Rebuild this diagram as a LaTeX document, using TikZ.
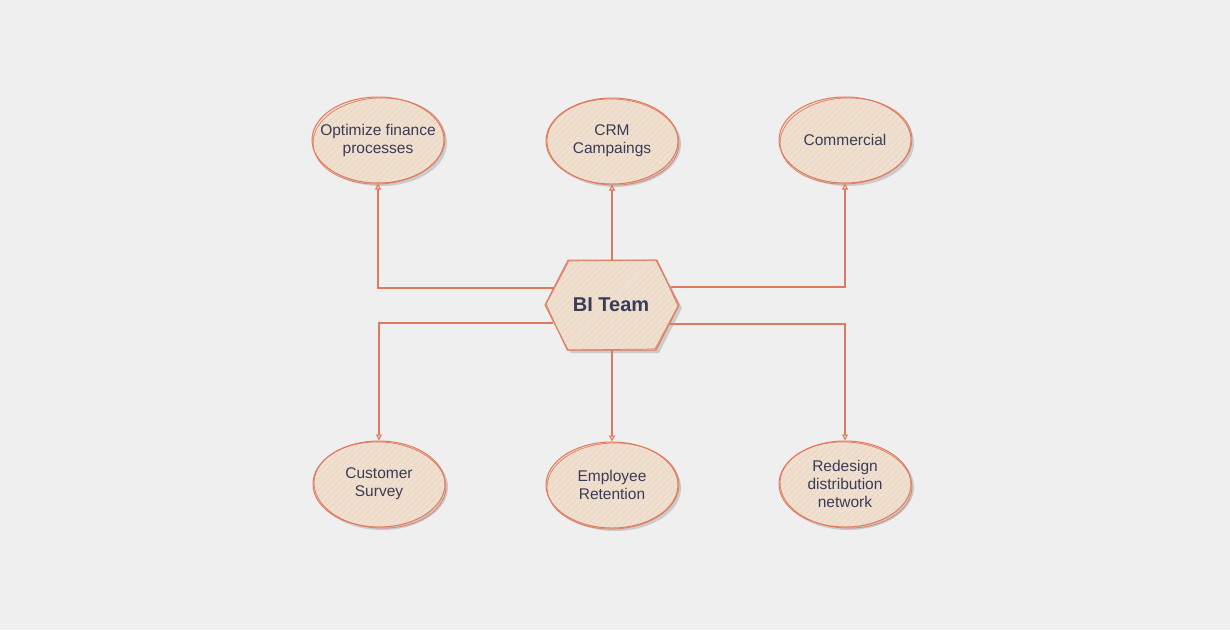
\documentclass[tikz,border=0pt]{standalone}
\usepackage{fontspec}
\setmainfont{Liberation Sans}
\usetikzlibrary{shapes.geometric,patterns.meta,shadows,calc,arrows.meta}
\definecolor{bg}{HTML}{EFEFEF}
\definecolor{stroke}{HTML}{E07A5F}
\definecolor{fillbase}{HTML}{EDE0D2}
\definecolor{hatch}{HTML}{F3D3AE}
\definecolor{txt}{HTML}{393C56}
\tikzset{
  goal/.style={ellipse, minimum width=132pt, minimum height=86pt, inner xsep=-14pt, inner ysep=0pt,
    draw=stroke, line width=1pt, align=center, text=txt,
    font=\fontsize{15.5}{18}\selectfont,
    drop shadow={shadow xshift=3pt, shadow yshift=-3pt, opacity=0.15, fill=black},
    preaction={fill=fillbase},
    pattern={Lines[angle=45,distance=4pt,line width=0.7pt]}, pattern color=hatch},
  sketch/.style={draw=stroke, line width=0.7pt},
  hexbox/.style={rectangle, minimum width=134pt, minimum height=90pt, inner sep=0pt,
    text=txt, font=\bfseries\fontsize{20}{24}\selectfont},
  conn/.style={draw=stroke, line width=1.1pt, -{Triangle[open,length=6pt,width=6pt]}},
}
\begin{document}
\begin{tikzpicture}[x=1pt,y=-1pt]
\useasboundingbox[fill=bg] (0,0) rectangle (1230,630);
% central hexagon
\coordinate (hc) at (611,305);
\path[drop shadow={shadow xshift=3pt, shadow yshift=-3pt, opacity=0.15, fill=black},
  draw=stroke, line width=1pt, preaction={fill=fillbase},
  pattern={Lines[angle=45,distance=4pt,line width=0.7pt]}, pattern color=hatch]
  ($(hc)+(-43,-45)$) -- ($(hc)+(45,-45)$) -- ($(hc)+(68,0)$) -- ($(hc)+(45,45)$)
  -- ($(hc)+(-43,45)$) -- ($(hc)+(-66,0)$) -- cycle;
\draw[sketch] ($(hc)+(-42,-44)$) -- ($(hc)+(46,-45)$) -- ($(hc)+(67,1)$) -- ($(hc)+(44,44)$)
  -- ($(hc)+(-44,45)$) -- ($(hc)+(-65,-1)$) -- cycle;
\node[hexbox] (bi) at (hc) {BI Team};
% goals
\node[goal] (g1) at (378,140) {Optimize finance\\processes};
\node[goal] (g2) at (612,141) {CRM\\Campaings};
\node[goal] (g3) at (845,140) {Commercial};
\node[goal] (g4) at (379,484) {Customer\\Survey};
\node[goal] (g5) at (612,485) {Employee\\Retention};
\node[goal] (g6) at (845,484) {Redesign\\distribution\\network};
\foreach \n/\r in {g1/3,g2/-2,g3/3,g4/-3,g5/2,g6/-3}{
  \draw[sketch] ($(\n.center)+(1,1)$) ellipse [x radius=66, y radius=43, rotate=\r];
}
% connector anchors on hexagon
\coordinate (s1) at ($(hc)+(-57,-17)$);
\coordinate (s2) at ($(hc)+(1,-45)$);
\coordinate (s3) at ($(hc)+(60,-18)$);
\coordinate (s4) at ($(hc)+(-58,18)$);
\coordinate (s5) at ($(hc)+(1,45)$);
\coordinate (s6) at ($(hc)+(59,19)$);
\draw[conn] (s1) -- (s1 -| g1.south) -- (g1.south);
\draw[conn] (s2) -- (g2.south);
\draw[conn] (s3) -- (s3 -| g3.south) -- (g3.south);
\draw[conn] (s4) -- (s4 -| g4.north) -- (g4.north);
\draw[conn] (s5) -- (g5.north);
\draw[conn] (s6) -- (s6 -| g6.north) -- (g6.north);
\end{tikzpicture}
\end{document}
